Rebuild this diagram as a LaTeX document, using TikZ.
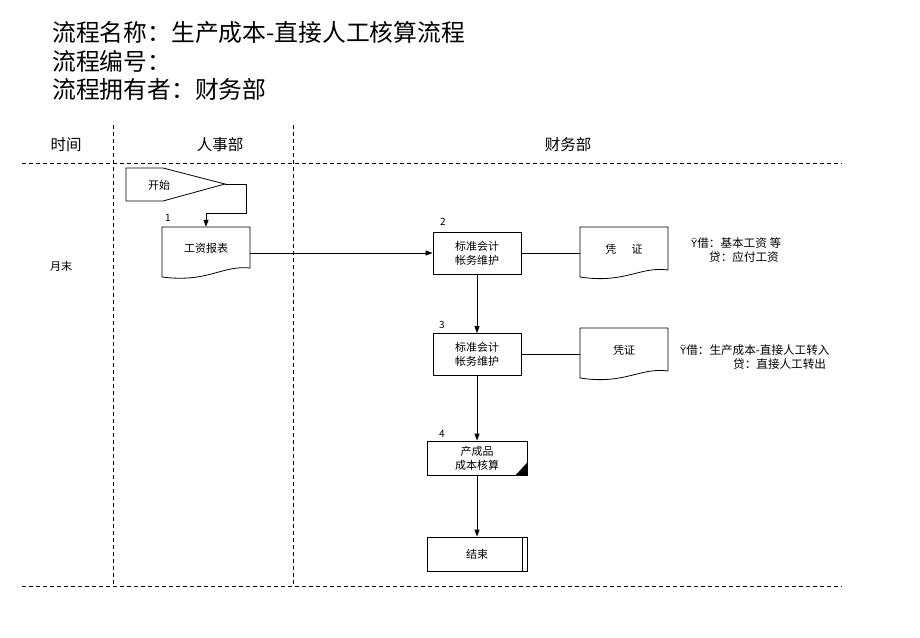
\documentclass[tikz,border=0pt]{standalone}
\usepackage{fontspec}
\setmainfont{Noto Sans CJK SC}
\newfontfamily\djv{DejaVu Sans}
\usetikzlibrary{arrows.meta}
\begin{document}
\begin{tikzpicture}[x=1pt,y=-1pt,
  dashline/.style={line width=1pt,dash pattern=on 4pt off 3pt},
  boxn/.style={draw,line width=0.8pt,minimum width=88pt,minimum height=42pt,inner sep=0pt,align=center,font=\fontsize{11}{14}\selectfont},
  txt/.style={inner sep=0pt,font=\fontsize{11}{14}\selectfont},
  ann/.style={inner sep=0pt,anchor=west,font=\fontsize{11.6}{14}\selectfont},
  hdr/.style={inner sep=0pt,font=\fontsize{15.5}{18}\selectfont},
  ttl/.style={inner sep=0pt,anchor=west,font=\fontsize{23.8}{28}\selectfont},
  num/.style={inner sep=0pt,font=\fontsize{10}{12}\selectfont},
  outl/.style={line width=0.8pt},
  arr/.style={line width=0.8pt,-{Triangle[length=7pt,width=5pt]}},
  con/.style={line width=0.8pt}]
\useasboundingbox (0,0) rectangle (920,637);
% titles
\node[ttl] (t1) at (52,32) {流程名称：生产成本-直接人工核算流程};
\node[ttl] (t2) at (52,61) {流程编号：};
\node[ttl] (t3) at (52,89) {流程拥有者：财务部};
% lanes
\draw[dashline] (22,163) -- (842,163);
\draw[dashline] (22,586) -- (842,586);
\draw[dashline] (113,125) -- (113,586);
\draw[dashline] (293,125) -- (293,586);
\node[hdr] (h1) at (66,145) {时间};
\node[hdr] (h2) at (220,145) {人事部};
\node[hdr] (h3) at (568,145) {财务部};
\node[txt] (month) at (61,266) {月末};
% start
\draw[outl] (126,168) -- (163,168) -- (225,184) -- (163,201) -- (126,201) -- cycle;
\node[txt] (start) at (159,185) {开始};
\coordinate (starttip) at (225,184);
% wage report document
\node[txt,minimum width=88pt,minimum height=42pt] (wage) at (206,248) {工资报表};
\draw[outl] (162,277) -- (162,227) -- (250,227) -- (250,268)
  .. controls (222,265) and (208,283) .. (162,277);
\node[num] (n1) at (168,218) {1};
\draw[arr] (starttip) -- ++(21,0) -- ++(0,29) -| (wage.north);
% box 2
\node[boxn] (b2) at (477,253) {标准会计\\帐务维护};
\node[num] (n2) at (443,222) {2};
\draw[arr] (wage.east |- b2.west) -- (b2.west);
% voucher 1
\node[txt,minimum width=88pt,minimum height=42pt] (v1) at (624,249) {凭\hspace{1.4em}证};
\draw[outl] (580,277) -- (580,227) -- (668,227) -- (668,270)
  .. controls (640,266) and (625,284) .. (580,277);
\draw[con] (b2.east) -- (v1.west |- b2.east);
\node[ann] (a1) at (691,243) {{\djv\fontsize{10}{12}\selectfont Ÿ}借：基本工资 等};
\node[ann] (a2) at (709,257) {贷：应付工资};
% box 3
\node[boxn] (b3) at (477,354.5) {标准会计\\帐务维护};
\node[num] (n3) at (442,325) {3};
\draw[arr] (b2.south) -- (b3.north);
% voucher 2
\node[txt,minimum width=88pt,minimum height=42pt] (v2) at (624,350) {凭证};
\draw[outl] (580,378) -- (580,328) -- (668,328) -- (668,371)
  .. controls (640,367) and (625,385) .. (580,378);
\draw[con] (b3.east) -- (v2.west |- b3.east);
\node[ann] (a3) at (680,350) {{\djv\fontsize{10}{12}\selectfont Ÿ}借：生产成本-直接人工转入};
\node[ann] (a4) at (733,364) {贷：直接人工转出};
% box 4
\node[boxn,minimum width=100pt,minimum height=34pt] (b4) at (477,458) {产成品\\成本核算};
\fill ([xshift=-12pt]b4.south east) -- (b4.south east) -- ([yshift=13pt]b4.south east) -- cycle;
\node[num] (n4) at (442,434) {4};
\draw[arr] (b3.south) -- (b4.north);
% box 5
\node[boxn,minimum width=100pt,minimum height=34pt] (b5) at (477,554) {结束};
\draw[outl] ([xshift=-5.5pt]b5.north east) -- ([xshift=-5.5pt]b5.south east);
\draw[arr] (b4.south) -- (b5.north);
\end{tikzpicture}
\end{document}
